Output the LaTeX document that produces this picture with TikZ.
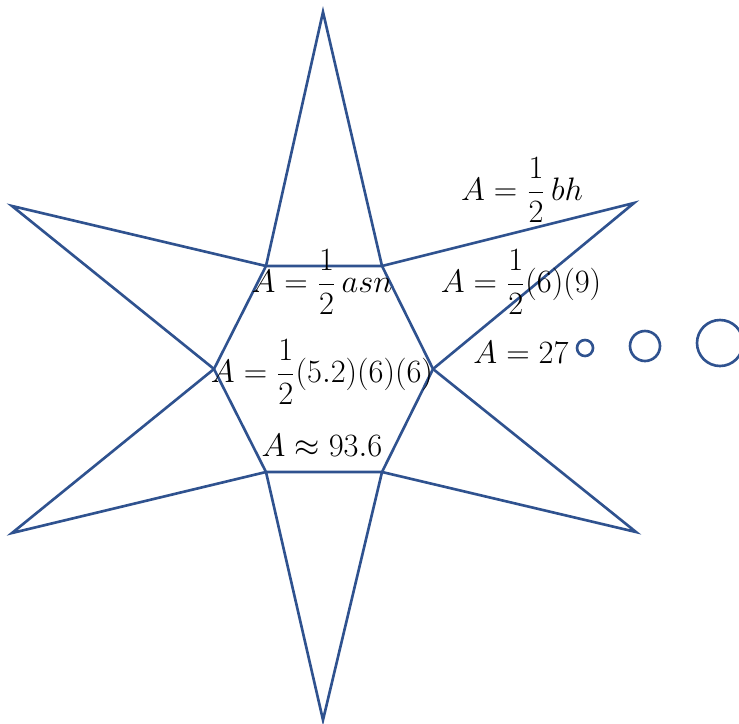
\documentclass[tikz,border=0pt]{standalone}
\usepackage{amsmath}
\definecolor{starblue}{RGB}{47,82,143}
\begin{document}
\begin{tikzpicture}[x=0.02cm,y=-0.02cm]
\useasboundingbox (0,0) rectangle (739,723);
\tikzset{edge/.style={line width=1.5pt, color=starblue, line join=miter},
  lbl/.style={font=\fontsize{17.28}{20}\selectfont, inner sep=0pt, scale=1.07}}
% hexagon
\coordinate (H1) at (266,266);
\coordinate (H2) at (382,266);
\coordinate (H3) at (433,369);
\coordinate (H4) at (382,472);
\coordinate (H5) at (266,472);
\coordinate (H6) at (214,369);
\draw[edge] (H1)--(H2)--(H3)--(H4)--(H5)--(H6)--cycle;
% star tips
\coordinate (T1) at (323,12);
\coordinate (T2) at (634,203);
\coordinate (T3) at (636,532);
\coordinate (T4) at (323,720);
\coordinate (T5) at (12,533);
\coordinate (T6) at (12,206);
\draw[edge] (H1)--(T1)--(H2);
\draw[edge] (H2)--(T2)--(H3);
\draw[edge] (H3)--(T3)--(H4);
\draw[edge] (H4)--(T4)--(H5);
\draw[edge] (H5)--(T5)--(H6);
\draw[edge] (H6)--(T6)--(H1);
% circles
\draw[edge] (585,348) circle (8);
\draw[edge] (645,346) circle (15);
\draw[edge] (720,343) circle (23);
% formulas
\node[lbl] (tri1) at (522,190) {$A=\dfrac{1}{2}\,bh$};
\node[lbl] (tri2) at (521,282) {$A=\dfrac{1}{2}(6)(9)$};
\node[lbl] (tri3) at (521,352) {$A=27$};
\node[lbl] (hex1) at (322,282) {$A=\dfrac{1}{2}\,asn$};
\node[lbl] (hex2) at (322,372) {$A=\dfrac{1}{2}(5.2)(6)(6)$};
\node[lbl] (hex3) at (322,445) {$A\approx 93.6$};
\end{tikzpicture}
\end{document}
